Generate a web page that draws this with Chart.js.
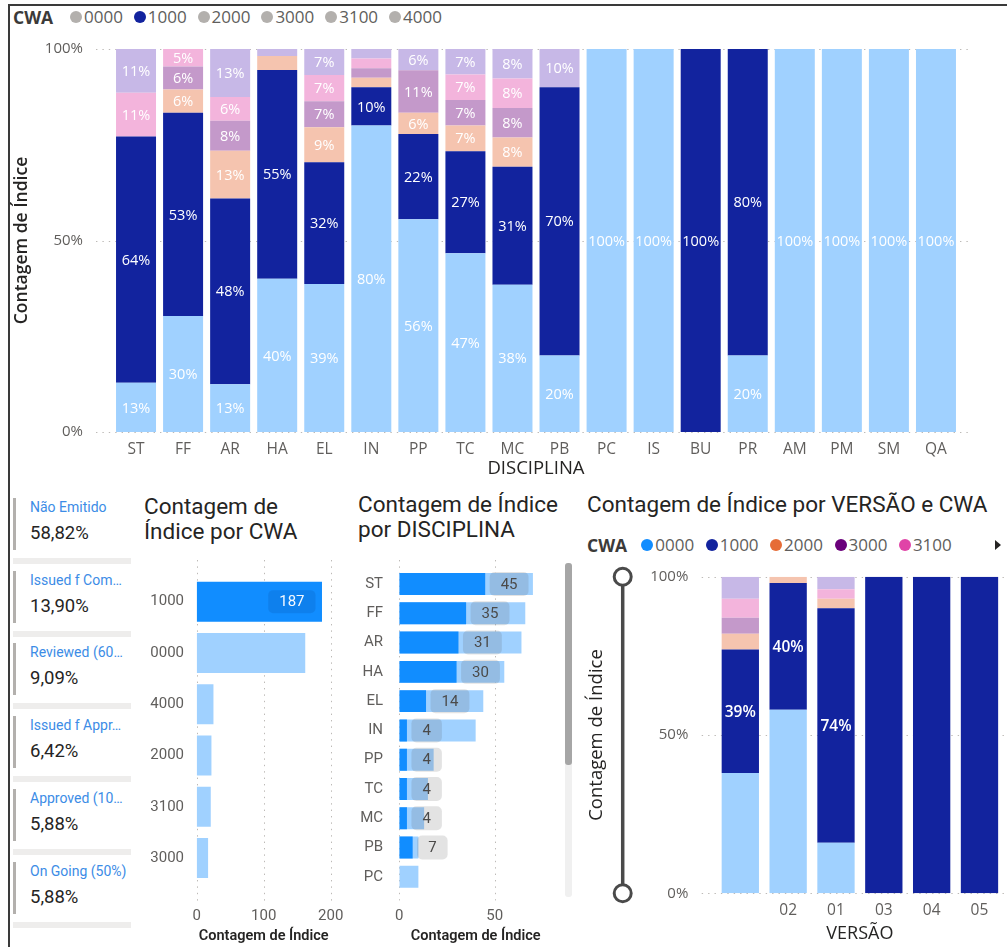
<!DOCTYPE html>
<html lang="pt">
<head>
<meta charset="utf-8">
<title>Contagem de Índice</title>
<script src="https://cdn.jsdelivr.net/npm/chart.js@4.4.1/dist/chart.umd.min.js"></script>
<style>
  html, body { margin: 0; padding: 0; background: #fff; }
  body { width: 1007px; height: 947px; position: relative; overflow: hidden;
         font-family: "Open Sans", "Noto Sans", sans-serif; }
  .frame { position: absolute; left: 8px; top: 4px; right: 0; bottom: -4px;
           border-top: 2px solid #3a3a3a; border-left: 2px solid #3a3a3a; }
  canvas { position: absolute; }
  .abs { position: absolute; white-space: nowrap; }
  .lg-title { font-weight: 700; color: #3b3a39; font-size: 17.5px; line-height: 20px; }
  .lg-item { font-size: 17px; line-height: 20px; color: #605E5C; }
  .lg-dot { position: absolute; width: 12px; height: 12px; border-radius: 50%; }
  .vtitle { font-family: Roboto, "Open Sans", sans-serif; font-size: 22.5px; line-height: 25px; color: #252423; }
  .card-bar { position: absolute; width: 3px; background: #B3B0AD; }
  .card-label { font-family: Roboto, "Open Sans", sans-serif; font-size: 14px; line-height: 16px; color: #3C8CE6; }
  .card-value { font-family: Roboto, "Open Sans", sans-serif; font-size: 18.5px; line-height: 22px; color: #252423; }
  .card-sep { position: absolute; height: 6px; background: #EEEDEC; }
</style>
</head>
<body>
<div class="frame"></div>

<div id="topLegend"></div>
<canvas id="cDisc" width="1007" height="480" style="left:0;top:0"></canvas>

<div id="cards"></div>

<div class="abs vtitle" style="left:144px;top:494px">Contagem de<br>Índice por CWA</div>
<canvas id="cCwa" width="210" height="392" style="left:140px;top:555px"></canvas>

<div class="abs vtitle" style="left:358px;top:492px">Contagem de Índice<br>por DISCIPLINA</div>
<canvas id="cDiscCount" width="210" height="392" style="left:350px;top:555px"></canvas>
<div class="abs" style="left:565px;top:563px;width:7px;height:334px;background:#F0F0F0;border-radius:3px"></div>
<div class="abs" style="left:565px;top:563px;width:7px;height:202px;background:#A6A6A6;border-radius:3px"></div>

<div class="abs vtitle" style="left:587px;top:492px">Contagem de Índice por VERSÃO e CWA</div>
<div id="verLegend"></div>
<div class="abs" style="left:995px;top:540px;width:0;height:0;border-top:5px solid transparent;border-bottom:5px solid transparent;border-left:6px solid #252423"></div>
<canvas id="cVer" width="437" height="392" style="left:570px;top:555px"></canvas>

<script>
// ---- data ----
const DISCIPLINAS = ['ST','FF','AR','HA','EL','IN','PP','TC','MC','PB','PC','IS','BU','PR','AM','PM','SM','QA'];
const CWA_CODES = ['0000','1000','2000','3000','3100','4000'];

// document counts per discipline, one list per CWA
const cwa0000 = [9, 20, 8, 22, 17, 32, 10, 7, 5, 2, 10, 4, 0, 1, 4, 4, 4, 3];
const cwa1000 = [45, 35, 31, 30, 14, 4, 4, 4, 4, 7, 0, 0, 5, 4, 0, 0, 0, 0];
const cwa2000 = [0, 4, 8, 2, 4, 1, 1, 1, 1, 0, 0, 0, 0, 0, 0, 0, 0, 0];
const cwa3000 = [0, 4, 5, 0, 3, 1, 2, 1, 1, 0, 0, 0, 0, 0, 0, 0, 0, 0];
const cwa3100 = [8, 3, 4, 0, 3, 1, 0, 1, 1, 0, 0, 0, 0, 0, 0, 0, 0, 0];
const cwa4000 = [8, 0, 8, 1, 3, 1, 1, 1, 1, 1, 0, 0, 0, 0, 0, 0, 0, 0];

// share (%) of each CWA within each version
const VERSOES = ['', '02', '01', '03', '04', '05'];
const ver0000 = [38, 58, 16, 0, 0, 0];
const ver1000 = [39, 40, 74, 100, 100, 100];
const ver2000 = [5, 2, 3, 0, 0, 0];
const ver3000 = [5, 0, 0, 0, 0, 0];
const ver3100 = [6, 0, 3, 0, 0, 0];
const ver4000 = [7, 0, 4, 0, 0, 0];

// status cards
const STATUS_NAMES = ['Não Emitido', 'Issued f Com…', 'Reviewed (60…', 'Issued f Appr…', 'Approved (10…', 'On Going (50%)'];
const STATUS_SHARES = ['58,82%', '13,90%', '9,09%', '6,42%', '5,88%', '5,88%'];

// ---- colours ----
const FULL  = ['#118DFF', '#12239E', '#E66C37', '#6B007B', '#E044A7', '#744EC2'];
const FADED = ['#A0D1FF', '#12239E', '#F5C4AF', '#C499CA', '#F3B4DC', '#C7B8E7'];
const MUTED = '#B3B0AD';
const INK = '#252423';
const TICK = '#605E5C';
const DIN = 'Roboto, "Open Sans", sans-serif';

Chart.defaults.font.family = '"Open Sans", "Noto Sans", sans-serif';
Chart.defaults.color = TICK;
Chart.defaults.animation = false;
Chart.defaults.responsive = false;
Chart.defaults.plugins.legend.display = false;
Chart.defaults.plugins.tooltip.enabled = false;

// ---- derived tables ----
const seriesCounts = [cwa0000, cwa1000, cwa2000, cwa3000, cwa3100, cwa4000];
const discTotals = DISCIPLINAS.map((_, i) => seriesCounts.reduce((s, a) => s + a[i], 0));
const toPct = a => a.map((v, i) => discTotals[i] ? v / discTotals[i] * 100 : 0);
const cwaTotals = seriesCounts.map(a => a.reduce((s, v) => s + v, 0));
const cwaOrder = CWA_CODES.map((c, k) => k).sort((a, b) => cwaTotals[b] - cwaTotals[a]);
const verSeries = [ver0000, ver1000, ver2000, ver3000, ver3100, ver4000];

// ---- plugins ----
const dotGrid = {
  id: 'dotGrid',
  beforeDatasetsDraw(chart, args, o) {
    const { ctx, chartArea: ca } = chart;
    const s = chart.scales[o.axis];
    ctx.save();
    ctx.strokeStyle = '#BDBAB7';
    ctx.lineWidth = 1;
    ctx.setLineDash([1.4, 5]);
    s.ticks.forEach(t => {
      const p = Math.round(s.getPixelForValue(t.value)) + 0.5;
      ctx.beginPath();
      if (s.isHorizontal()) { ctx.moveTo(p, ca.top - o.before); ctx.lineTo(p, ca.bottom + o.after); }
      else { ctx.moveTo(ca.left - o.before, p); ctx.lineTo(ca.right + o.after, p); }
      ctx.stroke();
    });
    ctx.restore();
  }
};

const pctLabels = {
  id: 'pctLabels',
  afterDatasetsDraw(chart, args, o) {
    const { ctx } = chart;
    ctx.save();
    ctx.font = o.font;
    ctx.fillStyle = o.color;
    ctx.textAlign = 'center';
    ctx.textBaseline = 'middle';
    chart.data.datasets.forEach((ds, di) => {
      if (o.datasets && !o.datasets.includes(di)) return;
      chart.getDatasetMeta(di).data.forEach((el, i) => {
        const v = ds.data[i];
        if (!(v >= o.min) || v > o.max) return;
        const c = el.getCenterPoint();
        ctx.fillText(Math.round(v) + '%', c.x, c.y + 1);
      });
    });
    ctx.restore();
  }
};

function drawBoxLabels(chart, o, keep) {
  const { ctx, chartArea: ca } = chart;
  const ds = chart.data.datasets[o.dataset];
  ctx.save();
  ctx.font = o.font;
  ctx.textAlign = 'center';
  ctx.textBaseline = 'middle';
  chart.getDatasetMeta(o.dataset).data.forEach((el, i) => {
    const v = ds.data[i];
    if (!v || (keep && !keep(i)) || el.y < ca.top || el.y > ca.bottom) return;
    const txt = String(v);
    const w = ctx.measureText(txt).width + 2 * o.padX;
    const x0 = o.inside ? el.x - o.gap - w : el.x + o.gap;
    ctx.fillStyle = o.box;
    ctx.beginPath();
    ctx.roundRect(x0, el.y - o.h / 2, w, o.h, 5);
    ctx.fill();
    ctx.fillStyle = o.color;
    ctx.fillText(txt, x0 + w / 2, el.y + 1);
  });
  ctx.restore();
}

const boxLabels = {
  id: 'boxLabels',
  afterDatasetsDraw(chart, args, o) {
    const only = o.onlyLabel;
    drawBoxLabels(chart, o, only ? i => chart.data.labels[i] === only : null);
  }
};

const rangeSlider = {
  id: 'rangeSlider',
  afterDraw(chart, args, o) {
    const { ctx, chartArea: ca } = chart;
    const y = chart.scales.y;
    const x = ca.left - o.offset;
    const y0 = y.getPixelForValue(100), y1 = y.getPixelForValue(0);
    ctx.save();
    ctx.strokeStyle = '#4A4A4A';
    ctx.lineWidth = 3.5;
    ctx.beginPath(); ctx.moveTo(x, y0); ctx.lineTo(x, y1); ctx.stroke();
    ctx.fillStyle = '#fff';
    ctx.lineWidth = 3;
    [y0, y1].forEach(cy => { ctx.beginPath(); ctx.arc(x, cy, 8.5, 0, Math.PI * 2); ctx.fill(); ctx.stroke(); });
    ctx.restore();
  }
};

// fixed axis boxes; label overflow is already covered by the layout padding
const fixW = w => s => { s.width = w; s.paddingTop = 0; s.paddingBottom = 0; };
const fixH = h => s => { s.height = h; s.paddingLeft = 0; s.paddingRight = 0; };

// ---- HTML legends and cards ----
function legend(id, top, titleLeft, firstCx, step, colors) {
  const box = document.getElementById(id);
  let html = `<div class="abs lg-title" style="left:${titleLeft}px;top:${top}px">CWA</div>`;
  CWA_CODES.forEach((code, k) => {
    if (!colors[k]) return;
    const cx = firstCx + step * k;
    html += `<div class="lg-dot" style="left:${cx - 6}px;top:${top + 4}px;background:${colors[k]}"></div>` +
            `<div class="abs lg-item" style="left:${cx + 8}px;top:${top}px">${code}</div>`;
  });
  box.innerHTML = html;
}
legend('topLegend', 7, 13, 76, 63.8, [MUTED, FULL[1], MUTED, MUTED, MUTED, MUTED]);
legend('verLegend', 535, 587, 647.3, 64.4, [FULL[0], FULL[1], FULL[2], FULL[3], FULL[4], null]);

(function cards() {
  const box = document.getElementById('cards');
  let html = '';
  STATUS_NAMES.forEach((name, i) => {
    const dy = i * 72.7;
    html += `<div class="card-bar" style="left:13px;top:${498 + dy}px;height:52px"></div>` +
            `<div class="abs card-label" style="left:30px;top:${499 + dy}px">${name}</div>` +
            `<div class="abs card-value" style="left:30px;top:${522 + dy}px">${STATUS_SHARES[i]}</div>` +
            `<div class="card-sep" style="left:13px;top:${558 + dy}px;width:118px"></div>`;
  });
  box.innerHTML = html;
})();

// ---- 100% stacked columns by DISCIPLINA ----
new Chart(document.getElementById('cDisc'), {
  type: 'bar',
  data: {
    labels: DISCIPLINAS,
    datasets: seriesCounts.map((a, k) => ({ label: CWA_CODES[k], data: toPct(a), backgroundColor: FADED[k] }))
  },
  options: {
    layout: { padding: { left: 8, top: 49, right: 47.5, bottom: 0 } },
    datasets: { bar: { categoryPercentage: 1, barPercentage: 0.85 } },
    scales: {
      x: {
        stacked: true,
        grid: { display: false, drawTicks: false }, border: { display: false },
        ticks: { padding: 8, font: { size: 15.5 }, color: TICK, maxRotation: 0, autoSkip: false },
        title: { display: true, text: 'DISCIPLINA', font: { size: 18.5 }, color: INK, padding: { top: 0, bottom: 0 } },
        afterFit: fixH(48)
      },
      y: {
        stacked: true, min: 0, max: 100,
        grid: { display: false, drawTicks: false }, border: { display: false },
        ticks: { stepSize: 50, padding: 29.5, font: { size: 15 }, color: TICK, callback: v => v + '%' },
        title: { display: true, text: 'Contagem de Índice', font: { size: 17.5, weight: '600' }, color: INK, padding: { top: 3.5, bottom: 0 } },
        afterFit: fixW(104.5)
      }
    },
    plugins: {
      dotGrid: { axis: 'y', before: 16.5, after: 12 },
      pctLabels: { min: 4, max: 100, font: '14.5px "Open Sans", sans-serif', color: '#FFFFFF' }
    }
  },
  plugins: [dotGrid, pctLabels]
});

// ---- count by CWA ----
new Chart(document.getElementById('cCwa'), {
  type: 'bar',
  data: {
    labels: cwaOrder.map(k => CWA_CODES[k]),
    datasets: [{
      label: 'Contagem de Índice',
      data: cwaOrder.map(k => cwaTotals[k]),
      backgroundColor: cwaOrder.map(k => k === 1 ? FULL[0] : FADED[0])
    }]
  },
  options: {
    indexAxis: 'y',
    layout: { padding: { left: 0, top: 21, right: 19.3, bottom: 0 } },
    datasets: { bar: { categoryPercentage: 1, barPercentage: 0.78 } },
    scales: {
      y: {
        grid: { display: false, drawTicks: false }, border: { display: false },
        ticks: { padding: 12.7, font: { size: 15, family: DIN }, color: TICK },
        afterFit: fixW(56.7)
      },
      x: {
        min: 0, max: 200,
        grid: { display: false, drawTicks: false }, border: { display: false },
        ticks: { stepSize: 100, padding: 23.3, font: { size: 15, family: DIN }, color: TICK },
        title: { display: true, text: 'Contagem de Índice', font: { size: 14.5, weight: '600', family: DIN }, color: INK, padding: { top: 0, bottom: 1.5 } },
        afterFit: fixH(63.3)
      }
    },
    plugins: {
      dotGrid: { axis: 'x', before: 16, after: 17 },
      boxLabels: { dataset: 0, onlyLabel: '1000', inside: true, gap: 6.5, padX: 11, h: 23, box: 'rgba(0,40,110,0.12)', color: '#F4F8FF', font: '15px Roboto, sans-serif' }
    }
  },
  plugins: [dotGrid, boxLabels]
});

// ---- count by DISCIPLINA (total with highlighted CWA 1000 overlaid) ----
new Chart(document.getElementById('cDiscCount'), {
  type: 'bar',
  data: {
    labels: DISCIPLINAS,
    datasets: [
      { label: '1000', data: cwa1000, backgroundColor: FULL[0] },
      { label: 'Total', data: discTotals, backgroundColor: FADED[0] }
    ]
  },
  options: {
    indexAxis: 'y',
    layout: { padding: { left: 0, top: 14.4, right: 8, bottom: 0 } },
    datasets: { bar: { categoryPercentage: 1, barPercentage: 0.75, clip: 0 } },
    scales: {
      y: {
        stacked: true, min: 'ST', max: 'PC',
        grid: { display: false, drawTicks: false }, border: { display: false },
        ticks: { padding: 16.3, font: { size: 15, family: DIN }, color: TICK },
        afterFit: fixW(49.3)
      },
      x: {
        stacked: false, min: 0, max: 80,
        grid: { display: false, drawTicks: false }, border: { display: false },
        ticks: { stepSize: 50, padding: 15.6, font: { size: 15, family: DIN }, color: TICK },
        afterBuildTicks: s => { s.ticks = s.ticks.filter(t => t.value % 50 === 0); },
        title: { display: true, text: 'Contagem de Índice', font: { size: 14.5, weight: '600', family: DIN }, color: INK, padding: { top: 0, bottom: 1.5 } },
        afterFit: fixH(55.6)
      }
    },
    plugins: {
      dotGrid: { axis: 'x', before: 9.4, after: 9 },
      boxLabels: { dataset: 0, inside: false, gap: 4.5, padX: 11, h: 24, box: 'rgba(90,90,90,0.17)', color: '#4B4A49', font: '15px Roboto, sans-serif' }
    }
  },
  plugins: [dotGrid, boxLabels]
});

// ---- 100% stacked columns by VERSÃO ----
new Chart(document.getElementById('cVer'), {
  type: 'bar',
  data: {
    labels: VERSOES,
    datasets: verSeries.map((a, k) => ({ label: CWA_CODES[k], data: a, backgroundColor: FADED[k] }))
  },
  options: {
    layout: { padding: { left: 0, top: 21.7, right: 3.6, bottom: 0 } },
    datasets: { bar: { categoryPercentage: 1, barPercentage: 0.78 } },
    scales: {
      x: {
        stacked: true,
        grid: { display: false, drawTicks: false }, border: { display: false },
        ticks: { padding: 7.7, font: { size: 15.5 }, color: TICK, maxRotation: 0 },
        title: { display: true, text: 'VERSÃO', font: { size: 18 }, color: INK, padding: { top: 0, bottom: 2.5 } },
        afterFit: fixH(53.7)
      },
      y: {
        stacked: true, min: 0, max: 100,
        grid: { display: false, drawTicks: false }, border: { display: false },
        ticks: { stepSize: 50, padding: 28.1, font: { size: 15 }, color: TICK, callback: v => v + '%' },
        title: { display: true, text: 'Contagem de Índice', font: { size: 18.5 }, color: INK, padding: { top: 15.6, bottom: 0 } },
        afterFit: fixW(146.4)
      }
    },
    plugins: {
      dotGrid: { axis: 'y', before: 14.7, after: 4 },
      pctLabels: { datasets: [1], min: 4, max: 99.5, font: '600 15.5px "Open Sans", sans-serif', color: '#FFFFFF' },
      rangeSlider: { offset: 93.7 }
    }
  },
  plugins: [dotGrid, pctLabels, rangeSlider]
});
</script>
</body>
</html>
